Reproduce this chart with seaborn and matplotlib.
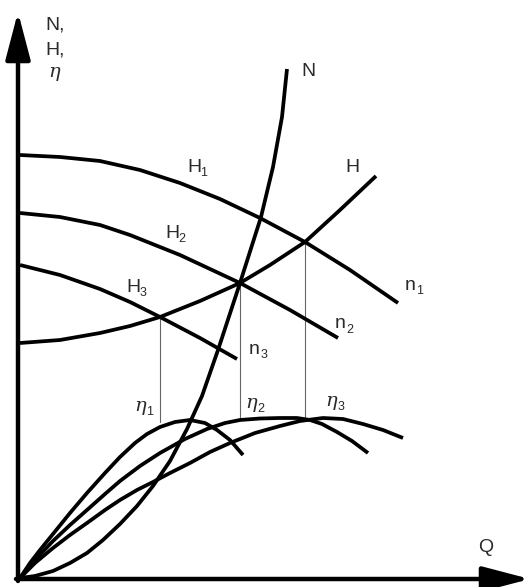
import pandas as pd
import seaborn as sns
import matplotlib.pyplot as plt

h1_q = [20, 60, 100, 140, 180, 220, 260, 305, 350, 398]
h1_y = [155, 157, 161, 170, 183, 199, 218, 242, 270, 303]

h2_q = [20, 60, 100, 130, 180, 240, 290, 338]
h2_y = [213, 217, 225, 235, 255, 283, 310, 338]

h3_q = [20, 60, 100, 130, 160, 200, 237]
h3_y = [265, 275, 289, 302, 317, 338, 359]

sys_q = [20, 60, 100, 130, 160, 200, 240, 270, 305, 340, 376]
sys_y = [343, 340, 333, 326, 317, 301, 283, 265, 242, 210, 176]

power_q = [20, 35, 53, 70, 87, 103, 120, 137, 153, 170, 187, 202, 218, 240, 261, 273, 282, 287]
power_y = [578, 576, 571, 563, 553, 540, 524, 506, 486, 461, 429, 396, 350, 283, 217, 167, 117, 69]

eta1_q = [20, 30, 40, 53, 70, 87, 105, 120, 135, 147, 160, 175, 190, 205, 217, 230, 243]
eta1_y = [578, 563, 550, 534, 513, 493, 473, 457, 443, 434, 427, 422, 420, 423, 430, 440, 455]

eta2_q = [20, 35, 53, 70, 87, 105, 120, 140, 160, 185, 207, 225, 240, 260, 280, 297, 310, 322, 337, 352, 368]
eta2_y = [578, 560, 541, 525, 510, 494, 481, 466, 453, 439, 429, 423, 420, 418.5, 418, 418, 420, 424, 432, 441, 453]

eta3_q = [20, 35, 53, 70, 87, 105, 120, 137, 153, 170, 190, 210, 230, 255, 280, 300, 323, 343, 363, 383, 403]
eta3_y = [578, 563, 548, 535, 523, 510, 500, 490, 482, 473, 463, 452, 443, 433, 426, 421, 418, 419, 424, 430, 438]

# operating points: q, top (on H) and bottom (on eta)
guide_q = [160, 240, 305]
guide_top = [317, 283, 242]
guide_bottom = [422, 418, 418]

SANS = ["Liberation Sans", "DejaVu Sans"]
SERIF = ["DejaVu Serif"]


def curve(ax, q, y, lw=2.7):
    frame = pd.DataFrame({"q": q, "y": y})
    sns.lineplot(data=frame, x="q", y="y", sort=False, estimator=None,
                 color="black", lw=lw, ax=ax, solid_capstyle="butt",
                 solid_joinstyle="round")


def label(ax, x, y, main, sub=None, eta=False):
    ax.text(x, y, main, fontsize=14, ha="center", va="center", color="#2a2a2a",
            family=SERIF if eta else SANS, style="italic" if eta else "normal")
    if sub:
        ax.text(x + 10, y + 6, sub, fontsize=9, ha="center", va="center",
                color="#2a2a2a", family=SANS)


def main():
    sns.set_theme(style="white")
    plt.rcParams["font.family"] = SANS
    fig = plt.figure(figsize=(5.30, 5.87), dpi=100)
    ax = fig.add_axes([0, 0, 1, 1])

    # axes with arrows
    arrow = dict(arrowstyle="-|>,head_length=1.45,head_width=0.38", lw=3.2,
                 color="black", shrinkA=0, shrinkB=0, mutation_scale=20)
    ax.annotate("", xy=(18, 12), xytext=(18, 581), arrowprops=arrow,
                annotation_clip=False)
    ax.annotate("", xy=(530, 579), xytext=(16, 579), arrowprops=arrow,
                annotation_clip=False)

    for q, top, bottom in zip(guide_q, guide_top, guide_bottom):
        ax.plot([q, q], [top, bottom], color="#666666", lw=0.8)

    for q, y in [(h1_q, h1_y), (h2_q, h2_y), (h3_q, h3_y), (sys_q, sys_y),
                 (power_q, power_y), (eta1_q, eta1_y), (eta2_q, eta2_y),
                 (eta3_q, eta3_y)]:
        curve(ax, q, y)
    ax.set_xlim(0, 530)
    ax.set_ylim(587, 0)
    ax.axis("off")

    label(ax, 55, 25, "N,")
    label(ax, 55, 50, "H,")
    label(ax, 54, 72, "η", eta=True)
    label(ax, 308, 72, "N")
    label(ax, 352, 167, "H")
    label(ax, 194, 167, "H", "1")
    label(ax, 172, 233, "H", "2")
    label(ax, 133, 287, "H", "3")
    label(ax, 410, 285, "n", "1")
    label(ax, 340, 324, "n", "2")
    label(ax, 254, 349, "n", "3")
    label(ax, 140, 406, "η", "1", eta=True)
    label(ax, 251, 403, "η", "2", eta=True)
    label(ax, 331, 401, "η", "3", eta=True)
    label(ax, 486, 547, "Q")

    fig.savefig("out.png", dpi=100)
    plt.close(fig)


if __name__ == "__main__":
    main()
